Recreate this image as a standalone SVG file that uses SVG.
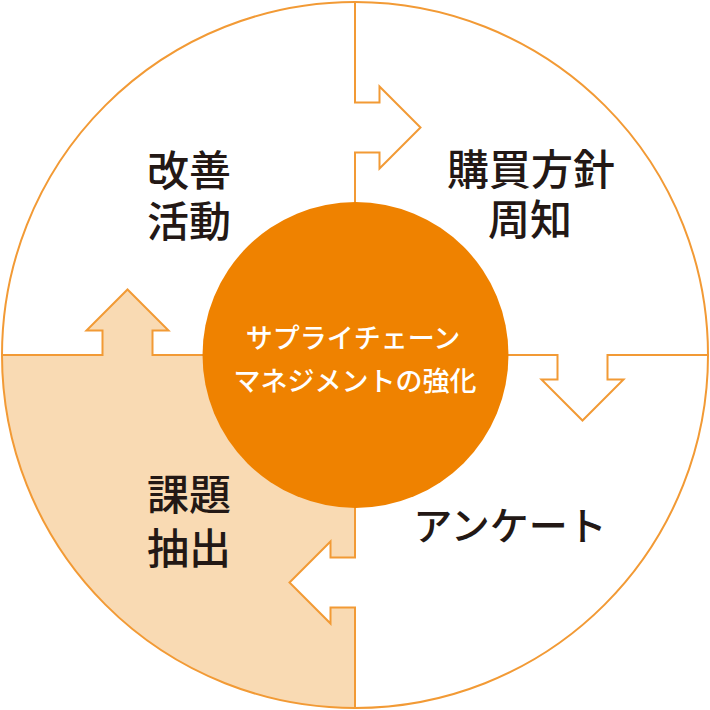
<svg xmlns="http://www.w3.org/2000/svg" width="710" height="710" viewBox="0 0 710 710">
<style>
.line{fill:none;stroke:#f29a35;stroke-width:2;stroke-linejoin:miter}
.lbl{font-family:"Noto Sans CJK JP","Noto Sans CJK SC",sans-serif;font-size:42px;fill:#231815;text-anchor:middle;font-weight:500}
.ctr{font-family:"Noto Sans CJK JP","Noto Sans CJK SC",sans-serif;font-size:27px;fill:#ffffff;text-anchor:middle;font-weight:500}
</style>
<rect width="710" height="710" fill="#ffffff"/>
<g id="quadrant-fill">
<path d="M355,355 H152.5 V330.5 H168.5 L127.5,289.5 L86.5,330.5 H102.5 V355 H2 A353,353 0 0 0 355,708 V607.5 H330.5 V623.5 L289.5,582.5 L330.5,541.5 V557.5 H355 Z" fill="#f9dab3"/>
</g>
<g id="outer-ring">
<circle cx="355" cy="355" r="353" fill="none" stroke="#f29a35" stroke-width="2"/>
</g>
<g id="connectors">
<path class="line" d="M355,2 V102.5 H379.5 V86.5 L420.5,127.5 L379.5,168.5 V152.5 H355 V355"/>
<path class="line" d="M355,355 H557.5 V379.5 H541.5 L582.5,420.5 L623.5,379.5 H607.5 V355 H708"/>
<path class="line" d="M355,708 V607.5 H330.5 V623.5 L289.5,582.5 L330.5,541.5 V557.5 H355 V355"/>
<path class="line" d="M2,355 H102.5 V330.5 H86.5 L127.5,289.5 L168.5,330.5 H152.5 V355 H355"/>
</g>
<g id="center">
<circle cx="355.5" cy="355" r="153" fill="#ef8200"/>
<text class="ctr" x="353" y="348">サプライチェーン</text>
<text class="ctr" x="355" y="391">マネジメントの強化</text>
</g>
<g id="kaizen">
<text class="lbl" x="189" y="186">改善</text>
<text class="lbl" x="189" y="237">活動</text>
</g>
<g id="kobai">
<text class="lbl" x="531" y="185">購買方針</text>
<text class="lbl" x="530" y="235">周知</text>
</g>
<g id="enquete">
<text class="lbl" x="510" y="540" style="font-size:39px">アンケート</text>
</g>
<g id="kadai">
<text class="lbl" x="189" y="510">課題</text>
<text class="lbl" x="189" y="564">抽出</text>
</g>
</svg>
